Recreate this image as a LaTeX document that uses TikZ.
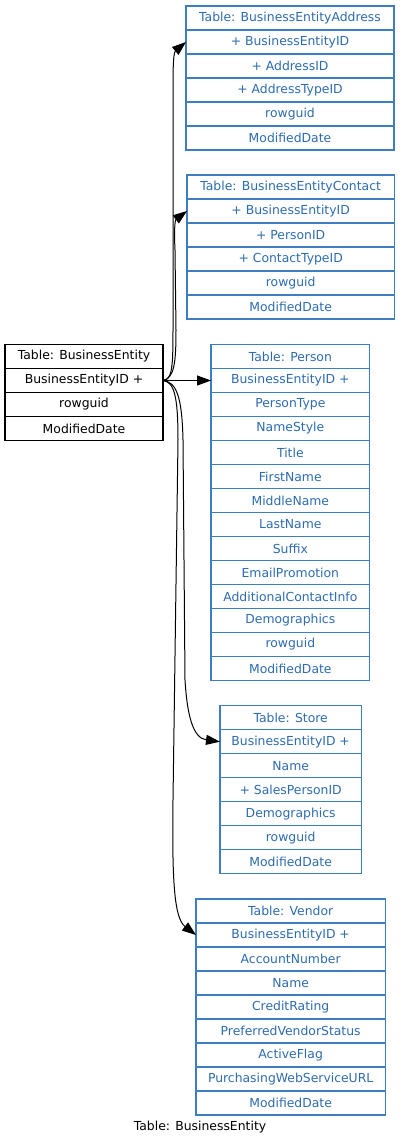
\documentclass[tikz,border=0pt]{standalone}
\usepackage{fontspec}
\setmainfont{DejaVu Sans}
\usetikzlibrary{positioning,arrows.meta}
\definecolor{tblue}{RGB}{46,108,176}
\definecolor{tline}{RGB}{62,126,192}

\begin{document}
\begin{tikzpicture}[x=0.75pt,y=-0.75pt,
  cell/.style={draw=tline, text=tblue, fill=white, line width=0.8pt, minimum height=18pt, inner sep=0pt, outer sep=0pt, font=\fontsize{9.3}{11}\selectfont},
  bcell/.style={cell, draw=black, text=black},
  fk/.style={line width=0.75pt, -{Triangle[length=10.5pt,width=7.5pt]}}]

\useasboundingbox (0,0) rectangle (400,1147);

% Table: BusinessEntityAddress
\node [cell, anchor=north west, minimum width=156pt] (bea0) at (186,6) {Table: BusinessEntityAddress};
\node [cell, minimum width=156pt, below=0pt of bea0] (bea1) {+ BusinessEntityID};
\node [cell, minimum width=156pt, below=0pt of bea1] (bea2) {+ AddressID};
\node [cell, minimum width=156pt, below=0pt of bea2] (bea3) {+ AddressTypeID};
\node [cell, minimum width=156pt, below=0pt of bea3] (bea4) {rowguid};
\node [cell, minimum width=156pt, below=0pt of bea4] (bea5) {ModifiedDate};

% Table: BusinessEntityContact
\node [cell, anchor=north west, minimum width=155.5pt] (bec0) at (187,175) {Table: BusinessEntityContact};
\node [cell, minimum width=155.5pt, below=0pt of bec0] (bec1) {+ BusinessEntityID};
\node [cell, minimum width=155.5pt, below=0pt of bec1] (bec2) {+ PersonID};
\node [cell, minimum width=155.5pt, below=0pt of bec2] (bec3) {+ ContactTypeID};
\node [cell, minimum width=155.5pt, below=0pt of bec3] (bec4) {rowguid};
\node [cell, minimum width=155.5pt, below=0pt of bec4] (bec5) {ModifiedDate};

% Table: BusinessEntity
\node [bcell, anchor=north west, minimum width=118.5pt] (be0) at (5,344.5) {Table: BusinessEntity};
\node [bcell, minimum width=118.5pt, below=0pt of be0] (be1) {BusinessEntityID +};
\node [bcell, minimum width=118.5pt, below=0pt of be1] (be2) {rowguid};
\node [bcell, minimum width=118.5pt, below=0pt of be2] (be3) {ModifiedDate};

% Table: Person
\node [cell, anchor=north west, minimum width=119pt] (per0) at (211,344.5) {Table: Person};
\node [cell, minimum width=119pt, below=0pt of per0] (per1) {BusinessEntityID +};
\node [cell, minimum width=119pt, below=0pt of per1] (per2) {PersonType};
\node [cell, minimum width=119pt, below=0pt of per2] (per3) {NameStyle};
\node [cell, minimum width=119pt, below=0pt of per3] (per4) {Title};
\node [cell, minimum width=119pt, below=0pt of per4] (per5) {FirstName};
\node [cell, minimum width=119pt, below=0pt of per5] (per6) {MiddleName};
\node [cell, minimum width=119pt, below=0pt of per6] (per7) {LastName};
\node [cell, minimum width=119pt, below=0pt of per7] (per8) {Suffix};
\node [cell, minimum width=119pt, below=0pt of per8] (per9) {EmailPromotion};
\node [cell, minimum width=119pt, below=0pt of per9] (per10) {AdditionalContactInfo};
\node [cell, minimum width=119pt, below=0pt of per10] (per11) {Demographics};
\node [cell, minimum width=119pt, below=0pt of per11] (per12) {rowguid};
\node [cell, minimum width=119pt, below=0pt of per12] (per13) {ModifiedDate};

% Table: Store
\node [cell, anchor=north west, minimum width=106pt] (sto0) at (220,705.7) {Table: Store};
\node [cell, minimum width=106pt, below=0pt of sto0] (sto1) {BusinessEntityID +};
\node [cell, minimum width=106pt, below=0pt of sto1] (sto2) {Name};
\node [cell, minimum width=106pt, below=0pt of sto2] (sto3) {+ SalesPersonID};
\node [cell, minimum width=106pt, below=0pt of sto3] (sto4) {Demographics};
\node [cell, minimum width=106pt, below=0pt of sto4] (sto5) {rowguid};
\node [cell, minimum width=106pt, below=0pt of sto5] (sto6) {ModifiedDate};

% Table: Vendor
\node [cell, anchor=north west, minimum width=142pt] (ven0) at (196,899) {Table: Vendor};
\node [cell, minimum width=142pt, below=0pt of ven0] (ven1) {BusinessEntityID +};
\node [cell, minimum width=142pt, below=0pt of ven1] (ven2) {AccountNumber};
\node [cell, minimum width=142pt, below=0pt of ven2] (ven3) {Name};
\node [cell, minimum width=142pt, below=0pt of ven3] (ven4) {CreditRating};
\node [cell, minimum width=142pt, below=0pt of ven4] (ven5) {PreferredVendorStatus};
\node [cell, minimum width=142pt, below=0pt of ven5] (ven6) {ActiveFlag};
\node [cell, minimum width=142pt, below=0pt of ven6] (ven7) {PurchasingWebServiceURL};
\node [cell, minimum width=142pt, below=0pt of ven7] (ven8) {ModifiedDate};

\node [font=\fontsize{9.3}{11}\selectfont] (title) at (200,1127) {Table: BusinessEntity};

% foreign keys
\draw [fk] (be1.east) .. controls (172,380) and (173,368) .. (173,330) -- (173,85) .. controls (173,60) and (174,52) .. (bea1.west);
\draw [fk] (be1.east) .. controls (174,378) and (176,364) .. (176,330) -- (175,250) .. controls (174,230) and (175,220) .. (bec1.west);
\draw [fk] (be1.east) -- (per1.west);
\draw [fk] (be1.east) .. controls (176,382) and (182,395) .. (183,440) -- (185,680) .. controls (187,712) and (192,738) .. (sto1.west);
\draw [fk] (be1.east) .. controls (174,382) and (178,395) .. (178,440) -- (173,800) .. controls (172,880) and (174,918) .. (ven1.west);

\end{tikzpicture}
\end{document}
